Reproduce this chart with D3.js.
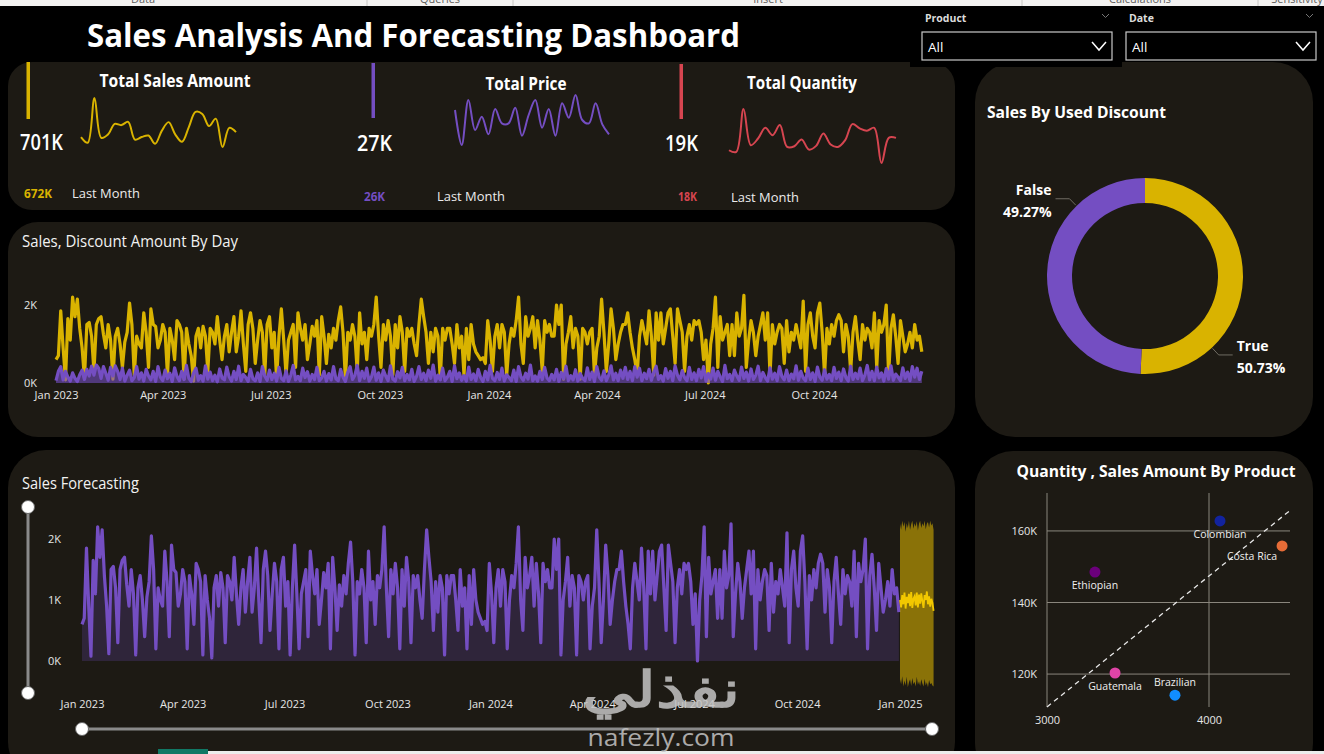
<!DOCTYPE html>
<html lang="en">
<head>
<meta charset="UTF-8">
<title>Sales Analysis And Forecasting Dashboard</title>
<script src="https://d3js.org/d3.v7.min.js"></script>
<style>
  body { margin: 0; background: #000; }
  svg text { font-family: "Open Sans", "Noto Sans", sans-serif; }
  .axis path, .axis line { display: none; }
  .axis text { fill: #e6e6e6; font-size: 11px; font-family: "Open Sans", sans-serif; }
</style>
</head>
<body>
<svg width="1324" height="754"></svg>
<script>
// ---- data ----
const ribbonLabels = ["Data", "Queries", "Insert", "Calculations", "Sensitivity"];

const kpiTitles = ["Total Sales Amount", "Total Price", "Total Quantity"];
const kpiValues = ["701K", "27K", "19K"];
const kpiLastMonth = ["672K", "26K", "18K"];
const salesByMonth = [24.3, 22.0, 40.0, 24.0, 25.3, 29.6, 29.1, 30.4, 23.3, 24.3, 24.9, 21.6,
                      26.9, 30.3, 25.3, 22.4, 28.3, 34.4, 33.6, 28.7, 31.7, 20.3, 28.0, 26.3];
const priceByMonth = [1420, 1000, 1540, 1180, 1340, 1128, 1432, 1260, 1260, 1448, 1112, 1360,
                      1540, 1208, 1432, 1112, 1500, 1328, 1600, 1300, 1260, 1500, 1248, 1128];
const qtyByMonth = [690, 680, 936, 720, 760, 824, 780, 840, 710, 714, 754, 694,
                    716, 790, 724, 710, 750, 846, 820, 806, 824, 614, 764, 764];

// daily sales, one value every 2 days from 1 Jan 2023
const salesDaily = [
  600,700,1850,900,80,1650,1100,2200,1700,2150,1400,900,120,1500,1550,
  1200,300,1500,1650,1700,1250,900,1500,1100,100,1200,1400,1000,400,1050,
  1300,2050,1500,200,1200,1000,900,1800,1300,400,1900,1500,1450,900,1100,
  1500,1300,200,1400,1100,600,1600,1500,1300,100,1400,1000,700,50,1200,
  1400,900,1450,1200,300,1400,1300,1000,1700,1100,600,1200,1500,800,1300,
  1700,800,1200,1850,1000,300,1500,1800,1400,500,1100,1600,1300,200,1500,
  1700,900,1300,100,1200,1900,1100,200,1100,1300,1500,400,1800,1400,1100,
  1500,600,1000,1450,1200,1600,200,1700,1200,500,1250,900,1400,1100,1600,
  1950,1300,100,1300,1100,1500,1200,300,1800,1000,1300,600,1400,1200,1500,
  2200,1200,400,1500,1100,1600,1200,200,1500,900,1700,1300,300,1400,1200,
  1400,1000,700,1500,2150,1700,1300,500,1300,800,1400,1200,100,1400,1100,
  1400,1400,1000,500,1500,900,1200,200,1400,600,1500,1000,800,700,600,
  650,500,1600,1100,300,1200,1500,900,1500,1300,200,1000,1400,1200,1600,
  2200,1000,500,1700,1200,1400,1700,900,1600,1100,300,1600,1300,1500,1200,
  1200,2000,1500,2000,100,1000,1300,1700,900,1400,1200,100,1400,1300,1000,
  1300,1400,200,900,1200,2150,1300,300,1000,1900,1400,600,1000,1300,1500,
  1500,1800,1300,900,600,200,1200,1600,1300,1000,1850,1200,200,1800,1100,
  1800,1000,1400,1800,1900,1200,500,1900,1600,1300,300,1200,1500,1100,1600,
  1500,1600,1300,600,1100,0,1000,1400,2200,400,1700,1100,1300,1500,700,
  1500,700,1800,1200,1400,2250,400,1100,1600,1300,700,1200,1500,1800,1100,
  1800,200,1500,1000,1300,1500,1400,500,1600,800,1300,1100,1500,1200,900,
  2100,300,1500,1800,1200,900,1800,2050,1300,200,1400,1000,1500,1200,1600,
  1750,1600,800,1500,1200,300,1300,1700,1100,600,1500,1100,1400,1300,900,
  1800,400,1600,1300,1500,2000,200,1400,1750,1200,500,1600,1200,800,1000,
  1300,900,1500,1100,1200,800
];
const discountDaily = [
  60,300,420,80,300,150,50,260,120,40,210,330,90,350,180,
  430,200,460,380,120,420,250,70,400,180,440,300,90,380,50,
  200,330,60,140,420,100,260,50,350,180,80,300,40,420,150,
  60,330,110,250,40,390,170,60,300,90,450,120,40,260,380,
  70,190,50,440,100,280,60,200,30,360,130,80,410,160,50,
  300,90,430,60,220,140,40,350,110,60,260,40,420,180,70,
  330,90,250,50,400,120,60,310,40,200,450,80,170,60,380,
  140,290,50,220,90,400,60,130,300,50,240,80,420,110,60,
  350,150,40,280,420,90,200,450,60,300,120,380,50,160,410,
  70,260,40,330,180,60,440,100,50,290,130,400,60,220,80,
  350,40,170,420,90,250,60,330,120,460,50,200,80,380,60,
  150,300,40,440,110,260,70,190,50,410,90,230,60,350,140,
  40,300,80,450,120,60,270,90,380,50,210,140,60,330,40,
  420,160,70,250,100,460,60,180,50,300,90,400,130,60,220,
  80,350,40,270,110,430,60,190,80,340,50,240,120,60,390,
  90,280,40,420,150,70,310,60,200,440,80,250,60,330,120,
  400,90,300,60,420,150,380,60,250,110,350,70,280,430,90,
  190,50,370,120,300,60,440,200,80,320,140,60,400,90,260,
  60,350,130,420,50,240,100,380,70,300,160,40,450,110,220,
  60,330,180,70,410,120,280,50,360,90,200,430,60,270,140,
  50,390,100,250,60,420,170,80,330,60,230,110,440,70,300,
  130,60,380,90,260,40,410,150,70,340,100,220,60,400,120,
  280,60,360,140,50,430,90,250,110,380,60,200,450,80,300,
  60,410,130,260,50,370,100,440,70,230,150,60,390,120,280,
  60,420,150,380,90,300
];

// forecast, daily for Jan 2025
const forecastValues = [1000,880,1080,930,1120,860,1050,950,1100,900,1130,870,1020,1060,910,1120,
                        880,1090,940,1110,980,870,1080,1000,1140,930,1060,890,1020,950,820];
const forecastUpper = [2250,2150,2300,2200,2280,2120,2260,2180,2300,2150,2240,2300,2170,2260,2200,2290,
                       2140,2250,2300,2180,2260,2210,2300,2160,2250,2280,2190,2300,2220,2260,2150];
const forecastLower = [-300,-380,-250,-420,-320,-400,-260,-430,-350,-300,-410,-280,-380,-340,-420,-260,
                       -390,-330,-410,-300,-370,-420,-290,-400,-350,-430,-310,-380,-360,-400,-420];

const dailyTicks = ["2023-01-01","2023-04-01","2023-07-01","2023-10-01","2024-01-01","2024-04-01","2024-07-01","2024-10-01"];
const forecastTicks = dailyTicks.concat(["2025-01-01"]);
const dailyYTicks = [0, 2000];
const forecastYTicks = [0, 1000, 2000];

const discountLabels = ["True", "False"];
const discountShare = [50.73, 49.27];

const products = ["Brazilian", "Colombian", "Costa Rica", "Ethiopian", "Guatemala"];
const productQty = [3790, 4068, 4451, 3296, 3420];
const productSales = [114100, 162800, 155800, 148500, 120300];
const trendQty = [3000, 4500];
const trendSales = [110800, 165700];
const scatterXTicks = [3000, 4000];
const scatterYTicks = [120000, 140000, 160000];

// ---- drawing ----
const yellow = "#D9B300", purple = "#744EC2", red = "#D64550";
const panelFill = "#1d1a14";
const productColors = ["#118DFF", "#12239E", "#E66C37", "#6B007B", "#E044A7"];
const dayStep = 2;
const lineW = 3.2;

const svg = d3.select("svg");
svg.append("rect").attr("width", 1324).attr("height", 754).attr("fill", "#000");

function fitText(sel, w) {
    return sel.attr("textLength", w).attr("lengthAdjust", "spacingAndGlyphs");
}

// ribbon strip at the top
svg.append("rect").attr("width", 1324).attr("height", 6).attr("fill", "#f3f2f1");
const ribbonX = [143, 440, 768, 1140, 1297];
svg.selectAll(".ribbon").data(ribbonLabels).join("text")
    .attr("x", (d, i) => ribbonX[i]).attr("y", 3)
    .attr("text-anchor", "middle").attr("font-size", 11).attr("fill", "#605e5c")
    .text(d => d);
[367, 513, 1022, 1258].forEach(x => svg.append("line")
    .attr("x1", x).attr("x2", x).attr("y1", 0).attr("y2", 6).attr("stroke", "#c8c6c4"));

// title
fitText(svg.append("text").attr("x", 87).attr("y", 47)
    .attr("font-size", 33).attr("font-weight", 700).attr("fill", "#fff")
    .text("Sales Analysis And Forecasting Dashboard"), 653);

function panel(x, y, w, h, r) {
    svg.append("rect").attr("x", x).attr("y", y).attr("width", w).attr("height", h)
        .attr("rx", r).attr("fill", panelFill);
}
panel(8, 62, 947, 148, 24);
panel(8, 222, 947, 215, 30);
panel(8, 450, 947, 330, 38);
panel(975, 62, 338, 375, 40);
panel(975, 451, 338, 330, 38);

// slicers
svg.append("rect").attr("x", 910).attr("y", 6).attr("width", 212).attr("height", 61).attr("fill", "#000");
const slicers = [{label: "Product", x: 922, w: 190}, {label: "Date", x: 1126, w: 190}];
slicers.forEach(s => {
    svg.append("text").attr("x", s.x + 3).attr("y", 22).attr("font-size", 10.5)
        .attr("font-weight", 700).attr("fill", "#dcdcdc").text(s.label);
    svg.append("path").attr("d", `M${s.x + s.w - 10},14 l3.5,3.5 l3.5,-3.5`)
        .attr("fill", "none").attr("stroke", "#777").attr("stroke-width", 1);
    svg.append("rect").attr("x", s.x).attr("y", 32).attr("width", s.w).attr("height", 28)
        .attr("fill", "#000").attr("stroke", "#c8c8c8").attr("stroke-width", 1.2);
    svg.append("text").attr("x", s.x + 6).attr("y", 52).attr("font-size", 13.5)
        .attr("fill", "#fff").text("All");
    svg.append("path").attr("d", `M${s.x + s.w - 20},42 l7,8 l7,-8`)
        .attr("fill", "none").attr("stroke", "#fff").attr("stroke-width", 1.5);
});

// KPI cards
const kpiSeries = [salesByMonth, priceByMonth, qtyByMonth];
const kpiColors = [yellow, purple, red];
const kpiLayout = [
    {bar: 28, barY: [62, 119], val: [20, 150, 43], title: [175, 87, 151], spark: [81, 236, 98, 147], last: [24, 198, 28], lm: [72, 198]},
    {bar: 373, barY: [63, 118], val: [357, 151, 35], title: [526, 90, 81], spark: [455, 609, 95, 145], last: [364, 201, 21], lm: [437, 201]},
    {bar: 681, barY: [64, 119], val: [665, 151, 33], title: [802, 89, 110], spark: [729, 896, 109, 163], last: [678, 201, 19], lm: [731, 202]}
];
kpiLayout.forEach((L, i) => {
    const c = kpiColors[i];
    svg.append("rect").attr("x", L.bar - 1.5).attr("y", L.barY[0]).attr("width", 3.5)
        .attr("height", L.barY[1] - L.barY[0]).attr("fill", c);
    fitText(svg.append("text").attr("x", L.val[0]).attr("y", L.val[1]).attr("font-size", 22)
        .attr("font-weight", 600).attr("fill", "#fff").text(kpiValues[i]), L.val[2]);
    fitText(svg.append("text").attr("x", L.title[0]).attr("y", L.title[1]).attr("text-anchor", "middle")
        .attr("font-size", 17).attr("font-weight", 700).attr("fill", "#fff").text(kpiTitles[i]), L.title[2]);
    fitText(svg.append("text").attr("x", L.last[0]).attr("y", L.last[1]).attr("font-size", 11.5)
        .attr("font-weight", 700).attr("fill", c).text(kpiLastMonth[i]), L.last[2]);
    fitText(svg.append("text").attr("x", L.lm[0]).attr("y", L.lm[1]).attr("font-size", 13)
        .attr("fill", "#ececec").text("Last Month"), 68);

    const vals = kpiSeries[i];
    const sx = d3.scaleLinear().domain([0, vals.length - 1]).range([L.spark[0], L.spark[1]]);
    const sy = d3.scaleLinear().domain(d3.extent(vals)).range([L.spark[3], L.spark[2]]);
    svg.append("path").datum(vals)
        .attr("d", d3.line().x((d, j) => sx(j)).y(d => sy(d)).curve(d3.curveCatmullRom))
        .attr("fill", "none").attr("stroke", c).attr("stroke-width", 2);
});

// daily chart
const dayStart = new Date(2023, 0, 1);
const dayDates = salesDaily.map((d, i) => d3.timeDay.offset(dayStart, i * dayStep));
svg.append("text").attr("x", 22).attr("y", 247).attr("font-size", 16.5).attr("fill", "#f2f2f2")
    .call(s => fitText(s, 216)).text("Sales, Discount Amount By Day");

const xD = d3.scaleTime().domain([new Date(2023, 0, 1), new Date(2025, 0, 1)]).range([56, 923]);
const yD = d3.scaleLinear().domain([0, 2000]).range([383, 305]);
svg.append("path").datum(salesDaily)
    .attr("d", d3.line().x((d, i) => xD(dayDates[i])).y(d => yD(d)))
    .attr("fill", "none").attr("stroke", yellow).attr("stroke-width", lineW).attr("stroke-linejoin", "round");
svg.append("path").datum(discountDaily)
    .attr("d", d3.area().x((d, i) => xD(dayDates[i])).y0(yD(0)).y1(d => yD(d)))
    .attr("fill", purple).attr("opacity", 0.6);
svg.append("path").datum(discountDaily)
    .attr("d", d3.line().x((d, i) => xD(dayDates[i])).y(d => yD(d)))
    .attr("fill", "none").attr("stroke", purple).attr("stroke-width", lineW).attr("stroke-linejoin", "round");

const kFmt = d => d / 1000 + "K";
svg.append("g").attr("class", "axis").attr("transform", "translate(0,383)")
    .call(d3.axisBottom(xD).tickValues(dailyTicks.map(d => d3.timeParse("%Y-%m-%d")(d)))
        .tickFormat(d3.timeFormat("%b %Y")).tickSize(0).tickPadding(8));
svg.append("g").attr("class", "axis").attr("transform", "translate(40,0)")
    .call(d3.axisLeft(yD).tickValues(dailyYTicks).tickFormat(kFmt).tickSize(0).tickPadding(3));

// forecasting chart
svg.append("text").attr("x", 22).attr("y", 489).attr("font-size", 16.5).attr("fill", "#f2f2f2")
    .call(s => fitText(s, 117)).text("Sales Forecasting");

const xF = d3.scaleTime().domain([new Date(2023, 0, 1), new Date(2025, 0, 1)]).range([82, 900]);
const yF = d3.scaleLinear().domain([0, 2000]).range([661, 539]);
svg.append("path").datum(salesDaily)
    .attr("d", d3.area().x((d, i) => xF(dayDates[i])).y0(yF(0)).y1(d => yF(d)))
    .attr("fill", purple).attr("opacity", 0.22);
svg.append("path").datum(salesDaily)
    .attr("d", d3.line().x((d, i) => xF(dayDates[i])).y(d => yF(d)))
    .attr("fill", "none").attr("stroke", purple).attr("stroke-width", lineW).attr("stroke-linejoin", "round");

const fcDates = forecastValues.map((d, i) => d3.timeDay.offset(new Date(2025, 0, 1), i));
svg.append("path").datum(forecastUpper)
    .attr("d", d3.area().x((d, i) => xF(fcDates[i])).y0((d, i) => yF(forecastLower[i])).y1(d => yF(d)))
    .attr("fill", yellow).attr("opacity", 0.58);
svg.append("path").datum(forecastValues)
    .attr("d", d3.line().x((d, i) => xF(fcDates[i])).y(d => yF(d)))
    .attr("fill", "none").attr("stroke", "#f2c800").attr("stroke-width", 1.8);

svg.append("g").attr("class", "axis").attr("transform", "translate(0,690)")
    .call(d3.axisBottom(xF).tickValues(forecastTicks.map(d => d3.timeParse("%Y-%m-%d")(d)))
        .tickFormat(d3.timeFormat("%b %Y")).tickSize(0).tickPadding(10));
svg.append("g").attr("class", "axis").attr("transform", "translate(64,0)")
    .call(d3.axisLeft(yF).tickValues(forecastYTicks).tickFormat(kFmt).tickSize(0).tickPadding(3));

// zoom sliders
svg.append("line").attr("x1", 28).attr("x2", 28).attr("y1", 507).attr("y2", 693)
    .attr("stroke", "#8a8a8a").attr("stroke-width", 3);
svg.append("line").attr("x1", 82).attr("x2", 932).attr("y1", 729).attr("y2", 729)
    .attr("stroke", "#8a8a8a").attr("stroke-width", 3);
[[28, 507], [28, 693], [82, 729], [932, 729]].forEach(p => svg.append("circle")
    .attr("cx", p[0]).attr("cy", p[1]).attr("r", 6.5)
    .attr("fill", "#fff").attr("stroke", "#666").attr("stroke-width", 1));

// donut
svg.append("text").attr("x", 987).attr("y", 118).attr("font-size", 16).attr("font-weight", 700)
    .attr("fill", "#fff").call(s => fitText(s, 179)).text("Sales By Used Discount");
const cx = 1145, cy = 276, R = 98, r0 = 73;
const pie = d3.pie().sort(null)(discountShare);
const arc = d3.arc().innerRadius(r0).outerRadius(R);
const donut = svg.append("g").attr("transform", `translate(${cx},${cy})`);
donut.selectAll("path").data(pie).join("path").attr("d", arc)
    .attr("fill", (d, i) => [yellow, purple][i]);
const total = d3.sum(discountShare);
pie.forEach((s, i) => {
    const a = s.startAngle + 0.75 * (s.endAngle - s.startAngle);
    const side = Math.sin(a) > 0 ? 1 : -1;
    const p0 = [cx + (R + 1) * Math.sin(a), cy - (R + 1) * Math.cos(a)];
    const p1 = [cx + (R + 10) * Math.sin(a), cy - (R + 10) * Math.cos(a)];
    const p2 = [p1[0] + 14 * side, p1[1]];
    svg.append("polyline").attr("points", [p0, p1, p2].join(" "))
        .attr("fill", "none").attr("stroke", "#6f6b62").attr("stroke-width", 1);
    const tx = p2[0] + 4 * side, anchor = side > 0 ? "start" : "end";
    svg.append("text").attr("x", tx).attr("y", p2[1] - 4).attr("text-anchor", anchor)
        .attr("font-size", 14).attr("font-weight", 700).attr("fill", "#fff").text(discountLabels[i]);
    svg.append("text").attr("x", tx).attr("y", p2[1] + 18).attr("text-anchor", anchor)
        .attr("font-size", 14).attr("font-weight", 700).attr("fill", "#fff")
        .text(d3.format(".2%")(discountShare[i] / total));
});

// scatter
svg.append("text").attr("x", 1156).attr("y", 477).attr("text-anchor", "middle")
    .attr("font-size", 16).attr("font-weight", 700).attr("fill", "#fff")
    .call(s => fitText(s, 279)).text("Quantity , Sales Amount By Product");
const xS = d3.scaleLinear().domain([3000, 4500]).range([1047, 1290]);
const yS = d3.scaleLinear().domain([110800, 170600]).range([707, 493]);
svg.selectAll(".hgrid").data(scatterYTicks).join("line")
    .attr("x1", xS(3000)).attr("x2", xS(4500)).attr("y1", d => yS(d)).attr("y2", d => yS(d))
    .attr("stroke", "#8a867d").attr("stroke-width", 1);
svg.selectAll(".vgrid").data(scatterXTicks).join("line")
    .attr("x1", d => xS(d)).attr("x2", d => xS(d)).attr("y1", yS(170600)).attr("y2", yS(110800))
    .attr("stroke", "#8a867d").attr("stroke-width", 1);
svg.append("g").attr("class", "axis").attr("transform", "translate(1040,0)")
    .call(d3.axisLeft(yS).tickValues(scatterYTicks).tickFormat(kFmt).tickSize(0).tickPadding(3))
    .selectAll("text").attr("font-size", 12);
svg.append("g").attr("class", "axis").attr("transform", "translate(0,707)")
    .call(d3.axisBottom(xS).tickValues(scatterXTicks).tickFormat(d3.format("d")).tickSize(0).tickPadding(9))
    .selectAll("text").attr("font-size", 12);
svg.append("line")
    .attr("x1", xS(trendQty[0])).attr("y1", yS(trendSales[0]))
    .attr("x2", xS(trendQty[1])).attr("y2", yS(trendSales[1]))
    .attr("stroke", "#e8e8e8").attr("stroke-width", 1.3).attr("stroke-dasharray", "5,4");
const labelOffset = {"Brazilian": [0, -9], "Costa Rica": [-30, 14]};
products.forEach((p, i) => {
    const px = xS(productQty[i]), py = yS(productSales[i]);
    svg.append("circle").attr("cx", px).attr("cy", py).attr("r", 5.5).attr("fill", productColors[i]);
    const off = labelOffset[p] || [0, 17];
    svg.append("text").attr("x", px + off[0]).attr("y", py + off[1]).attr("text-anchor", "middle")
        .attr("font-size", 10.5).attr("fill", "#eee").text(p);
});

// bottom page strip
svg.append("rect").attr("x", 158).attr("y", 751).attr("width", 1166).attr("height", 3).attr("fill", "#ededed");
svg.append("rect").attr("x", 158).attr("y", 749).attr("width", 50).attr("height", 5).attr("fill", "#117865");

// watermark
svg.append("text").attr("x", 661).attr("y", 707).attr("text-anchor", "middle")
    .attr("font-family", "DejaVu Sans").attr("font-size", 50).attr("font-weight", 700)
    .attr("fill", "#c4c4c4").attr("opacity", 0.85)
    .call(s => fitText(s, 158)).text("نفذلي");
svg.append("text").attr("x", 661).attr("y", 746).attr("text-anchor", "middle")
    .attr("font-family", "DejaVu Sans").attr("font-size", 24)
    .attr("fill", "#c4c4c4").attr("opacity", 0.85)
    .call(s => fitText(s, 147)).text("nafezly.com");
</script>
</body>
</html>
